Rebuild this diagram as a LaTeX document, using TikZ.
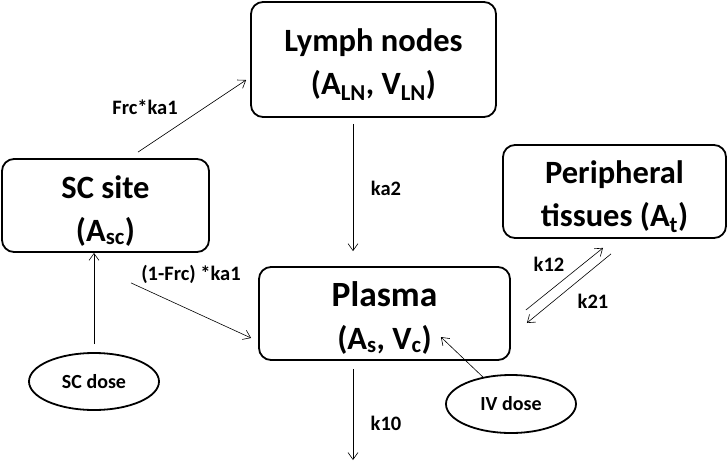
\documentclass[tikz,border=0pt]{standalone}
\usepackage{fontspec}
\setmainfont{Carlito}
\usepackage{tikz}
\usetikzlibrary{shapes.geometric, arrows.meta, positioning, calc}
\newcommand{\firstline}{\rule{0pt}{33pt}}

\begin{document}
\begin{tikzpicture}[x=1pt, y=-1pt,
  compart/.style={draw, line width=1.8pt, rounded corners=12pt, align=center, inner sep=0pt, font=\bfseries\fontsize{32.5}{43}\selectfont},
  dose/.style={draw, ellipse, line width=1.8pt, inner sep=0pt, font=\bfseries\fontsize{20}{24}\selectfont},
  rate/.style={inner sep=0pt, font=\bfseries\fontsize{20.5}{24}\selectfont},
  flow/.style={-{Straight Barb[length=7pt, width=10pt]}, line width=0.6pt}]
  \useasboundingbox (0,0) rectangle (728,464);

  % Compartments
  \node[compart, minimum width=245pt, minimum height=115pt] (lymph) at (373.5,59.5) {\firstline Lymph nodes\\(A\textsubscript{LN}, V\textsubscript{LN})};
  \node[compart, minimum width=207pt, minimum height=93pt] (sc) at (105.5,205.5) {\firstline SC site\\(A\textsubscript{sc})};
  \node[compart, minimum width=223pt, minimum height=93pt] (peri) at (614.5,191.5) {\firstline Peripheral\\tissues (A\textsubscript{t})};
  \node[compart, minimum width=251pt, minimum height=93pt] (plasma) at (384.5,313.5) {\firstline{\fontsize{35.5}{43}\selectfont Plasma}\\(A\textsubscript{s}, V\textsubscript{c})};

  % Doses
  \node[dose, minimum width=130pt, minimum height=57pt] (scdose) at (94,381.5) {SC dose};
  \node[dose, minimum width=130pt, minimum height=58pt] (ivdose) at (511,404) {IV dose};

  % Absorption
  \draw[flow] ($(sc.north)+(32.5,-6)$) -- ($(lymph.west)+(-4,20.5)$);
  \node[rate] (frclbl) at (145,107) {Frc*ka1};
  \draw[flow] ($(sc.south)+(25.5,30)$) -- ($(plasma.west)+(-7,24.5)$);
  \node[rate] (frcrest) at (191,274) {(1-Frc) *ka1};
  \draw[flow] ($(lymph.south)+(-20.5,6)$) -- ($(plasma.north)+(-31.5,-15)$);
  \node[rate] (ka2lbl) at (386,188) {ka2};

  % Dosing
  \draw[flow] ($(scdose.north)+(0,-8)$) -- (scdose.north |- sc.south);
  \draw[flow] ($(ivdose.north)+(-28,3)$) -- ($(plasma.east)+(-70,23.5)$);

  % Distribution and elimination
  \draw[flow] ($(plasma.east)+(15,-3.5)$) -- ($(peri.south)+(-11.5,9)$);
  \node[rate] (k12lbl) at (549,264) {k12};
  \draw[flow] ($(peri.south)+(-3.5,15)$) -- ($(plasma.east)+(16,9.5)$);
  \node[rate] (k21lbl) at (593,301) {k21};
  \coordinate (out) at (353,460);
  \draw[flow] ($(plasma.south)+(-31.5,8)$) -- (out);
  \node[rate] (k10lbl) at (386,423) {k10};
\end{tikzpicture}
\end{document}
